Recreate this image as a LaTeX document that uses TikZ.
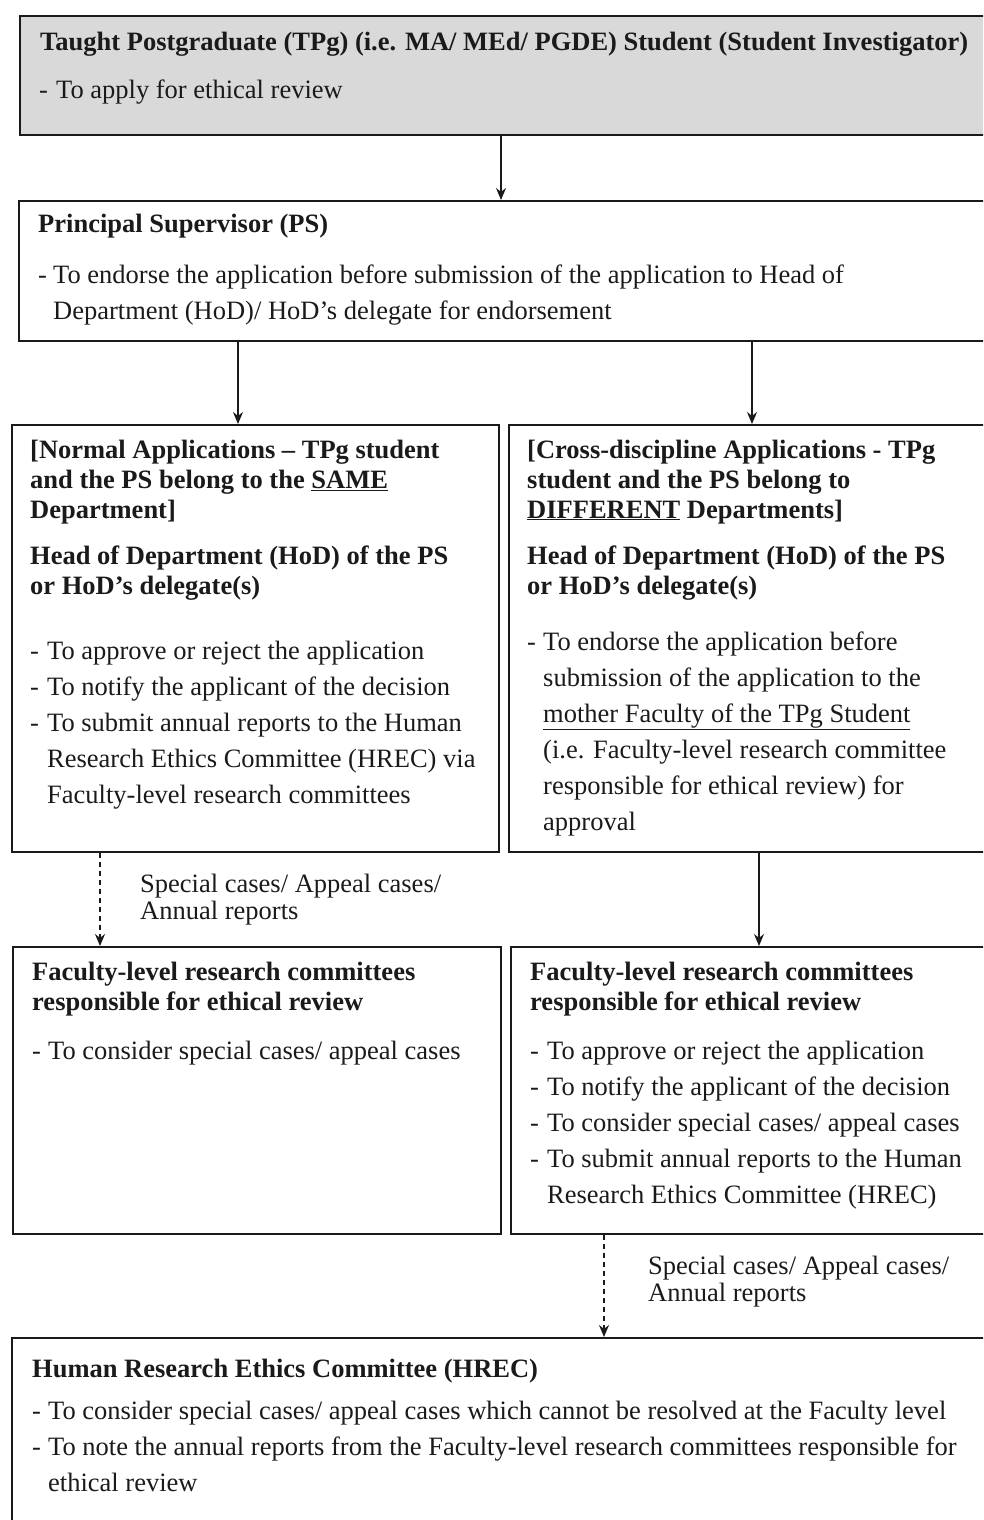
\documentclass[tikz,border=0pt]{standalone}
\usepackage{fontspec}
\setmainfont{Liberation Serif}
\usetikzlibrary{arrows.meta,calc}
\definecolor{ink}{HTML}{1A1A1A}
\definecolor{boxfill}{HTML}{D9D9D9}
\newcommand{\bl}[1]{\makebox[#1][l]{-}}
\newcommand{\hi}[1]{\hspace*{#1}}
\newcommand{\st}{\rule{0pt}{24pt}}
\tikzset{
  box/.style={draw=ink, line width=1.6pt, rectangle, inner sep=0pt, anchor=north west},
  txt/.style={anchor=north west, inner sep=0pt, align=left, text=ink, font=\fontsize{26.5}{36}\selectfont},
  hdr/.style={anchor=north west, inner sep=0pt, align=left, text=ink, font=\fontsize{26.5}{30}\selectfont\bfseries},
  lbl/.style={anchor=north west, inner sep=0pt, align=left, text=ink, font=\fontsize{26.5}{27}\selectfont},
  arr/.style={draw=ink, line width=1.3pt, -{Stealth[length=12pt,width=10pt]}},
  darr/.style={arr, dash pattern=on 5pt off 4pt}
}
\begin{document}
\begin{tikzpicture}[x=1pt,y=-1pt]
\useasboundingbox (0,0) rectangle (983,1520);
\clip (0,0) rectangle (983,1520);
% boxes
\node[box, fill=boxfill, line width=2.2pt, minimum width=1000pt, minimum height=119pt] (top) at (19,15) {};
\node[box, minimum width=1000pt, minimum height=140pt] (ps) at (18,200) {};
\node[box, minimum width=487pt, minimum height=427pt] (nl) at (11,424) {};
\node[box, minimum width=500pt, minimum height=427pt] (cr) at (508,424) {};
\node[box, minimum width=488pt, minimum height=287pt] (fl) at (12,946) {};
\node[box, minimum width=500pt, minimum height=287pt] (fr) at (510,946) {};
\node[box, minimum width=1000pt, minimum height=250pt] (hr) at (11,1337) {};
% texts (y = first baseline - 24)
\node[hdr] (topt) at (40,26) {\st Taught Postgraduate (TPg) (i.e. MA/ MEd/ PGDE) Student (Student Investigator)};
\node[txt] (topb) at (39,74) {\st\bl{17pt}To apply for ethical review};
\node[hdr] (pst) at (38,208) {\st Principal Supervisor (PS)};
\node[txt] (psb) at (38,259) {\st\bl{15pt}To endorse the application before submission of the application to Head of\\\hi{15pt}Department (HoD)/ HoD's delegate for endorsement};
\node[hdr] (nlh) at (30,434) {\st[Normal Applications -- TPg student\\and the PS belong to the \underline{SAME}\\Department]};
\node[hdr] (nlt) at (30,540) {\st Head of Department (HoD) of the PS\\or HoD's delegate(s)};
\node[txt] (nlb) at (30,635) {\st\bl{17pt}To approve or reject the application\\\bl{17pt}To notify the applicant of the decision\\\bl{17pt}To submit annual reports to the Human\\\hi{17pt}Research Ethics Committee (HREC) via\\\hi{17pt}Faculty-level research committees};
\node[hdr] (crh) at (527,434) {\st[Cross-discipline Applications - TPg\\student and the PS belong to\\\underline{DIFFERENT} Departments]};
\node[hdr] (crt) at (527,540) {\st Head of Department (HoD) of the PS\\or HoD's delegate(s)};
\node[txt] (crb) at (527,626) {\st\bl{16pt}To endorse the application before\\\hi{16pt}submission of the application to the\\\hi{16pt}\underline{mother Faculty of the TPg Student}\\\hi{16pt}(i.e. Faculty-level research committee\\\hi{16pt}responsible for ethical review) for\\\hi{16pt}approval};
\node[hdr] (flh) at (32,956) {\st Faculty-level research committees\\responsible for ethical review};
\node[txt] (flb) at (32,1035) {\st\bl{16pt}To consider special cases/ appeal cases};
\node[hdr] (frh) at (530,956) {\st Faculty-level research committees\\responsible for ethical review};
\node[txt] (frb) at (530,1035) {\st\bl{17pt}To approve or reject the application\\\bl{17pt}To notify the applicant of the decision\\\bl{17pt}To consider special cases/ appeal cases\\\bl{17pt}To submit annual reports to the Human\\\hi{17pt}Research Ethics Committee (HREC)};
\node[hdr] (hrt) at (32,1353) {\st Human Research Ethics Committee (HREC)};
\node[txt] (hrb) at (32,1395) {\st\bl{16pt}To consider special cases/ appeal cases which cannot be resolved at the Faculty level\\\bl{16pt}To note the annual reports from the Faculty-level research committees responsible for\\\hi{16pt}ethical review};
\node[lbl] (l1) at (140,868) {\st Special cases/ Appeal cases/\\Annual reports};
\node[lbl] (l2) at (648,1250) {\st Special cases/ Appeal cases/\\Annual reports};
% connectors
\coordinate (a1) at (501,0);
\coordinate (a2) at (238,0);
\coordinate (a3) at (752,0);
\coordinate (a4) at (100,0);
\coordinate (a5) at (759,0);
\coordinate (a6) at (604,0);
\draw[arr] (a1 |- top.south) -- (a1 |- ps.north);
\draw[arr] (a2 |- ps.south) -- (a2 |- nl.north);
\draw[arr] (a3 |- ps.south) -- (a3 |- cr.north);
\draw[darr] (a4 |- nl.south) -- (a4 |- fl.north);
\draw[arr] (a5 |- cr.south) -- (a5 |- fr.north);
\draw[darr] (a6 |- fr.south) -- (a6 |- hr.north);
\end{tikzpicture}
\end{document}
